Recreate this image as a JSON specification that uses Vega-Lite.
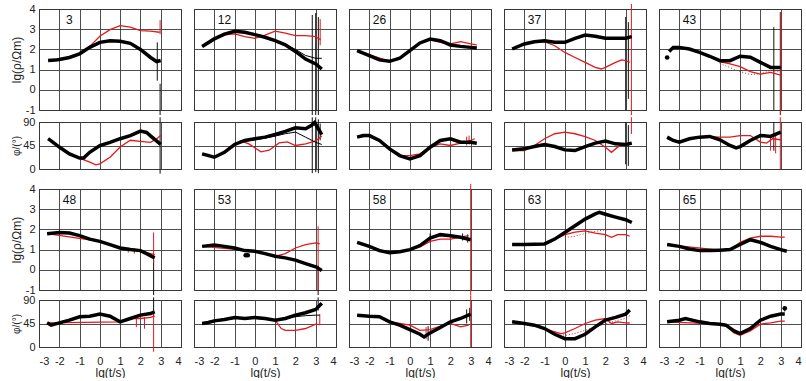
{
"$schema":"https://vega.github.io/schema/vega-lite/v6.json",
"padding":{"left":10,"top":2,"right":2,"bottom":0},
"config":{"font":"Liberation Sans","view":{"stroke":"#222","strokeWidth":1},
"axis":{"gridColor":"#3a3a3a","gridWidth":0.9,"gridOpacity":1,"labelFontSize":11,"labelColor":"#222","titleColor":"#222","titleFontWeight":"normal","labelPadding":3,"ticks":false,"domain":false,"labelOverlap":false,"labelExpr":"datum.value"},
"axisY":{"minExtent":13,"maxExtent":13}},
"datasets":{"d":[
{"s":3,"q":"r","k":"l"},{"s":12,"q":"r","k":"l"},{"s":26,"q":"r","k":"l"},{"s":37,"q":"r","k":"l"},{"s":43,"q":"r","k":"l"},
{"s":48,"q":"r","k":"l"},{"s":53,"q":"r","k":"l"},{"s":58,"q":"r","k":"l"},{"s":63,"q":"r","k":"l"},{"s":65,"q":"r","k":"l"},

{"s":3,"q":"r","k":"o","x":-2.55,"y":1.45},{"s":3,"q":"r","k":"o","x":-2.2,"y":1.47},{"s":3,"q":"r","k":"o","x":-2,"y":1.5},{"s":3,"q":"r","k":"o","x":-1.5,"y":1.6},{"s":3,"q":"r","k":"o","x":-1,"y":1.78},{"s":3,"q":"r","k":"o","x":-0.5,"y":2.1},{"s":3,"q":"r","k":"o","x":0,"y":2.35},{"s":3,"q":"r","k":"o","x":0.5,"y":2.43},{"s":3,"q":"r","k":"o","x":1,"y":2.4},{"s":3,"q":"r","k":"o","x":1.5,"y":2.3},{"s":3,"q":"r","k":"o","x":2,"y":2.0},{"s":3,"q":"r","k":"o","x":2.5,"y":1.6},{"s":3,"q":"r","k":"o","x":2.8,"y":1.4},{"s":3,"q":"r","k":"o","x":3.0,"y":1.45},
{"s":3,"q":"r","k":"m","x":-2.55,"y":1.45},{"s":3,"q":"r","k":"m","x":-2,"y":1.5},{"s":3,"q":"r","k":"m","x":-1.5,"y":1.6},{"s":3,"q":"r","k":"m","x":-1,"y":1.8},{"s":3,"q":"r","k":"m","x":-0.5,"y":2.15},{"s":3,"q":"r","k":"m","x":0,"y":2.65},{"s":3,"q":"r","k":"m","x":0.5,"y":2.98},{"s":3,"q":"r","k":"m","x":1,"y":3.18},{"s":3,"q":"r","k":"m","x":1.5,"y":3.1},{"s":3,"q":"r","k":"m","x":2,"y":2.93},{"s":3,"q":"r","k":"m","x":2.5,"y":2.9},{"s":3,"q":"r","k":"m","x":2.95,"y":2.85},
{"s":3,"q":"r","k":"eb","x":2.83,"y":2.35,"y2":0.45},{"s":3,"q":"r","k":"eb","x":2.97,"y":0.3,"y2":-1.25},{"s":3,"q":"r","k":"er","x":2.97,"y":3.45,"y2":2.75},
{"s":3,"q":"p","k":"o","x":-2.55,"y":58},{"s":3,"q":"p","k":"o","x":-2,"y":42},{"s":3,"q":"p","k":"o","x":-1.5,"y":29},{"s":3,"q":"p","k":"o","x":-1,"y":21},{"s":3,"q":"p","k":"o","x":-0.8,"y":21},{"s":3,"q":"p","k":"o","x":-0.5,"y":32},{"s":3,"q":"p","k":"o","x":0,"y":45},{"s":3,"q":"p","k":"o","x":0.5,"y":51},{"s":3,"q":"p","k":"o","x":1,"y":58},{"s":3,"q":"p","k":"o","x":1.5,"y":64},{"s":3,"q":"p","k":"o","x":2,"y":72.6},{"s":3,"q":"p","k":"o","x":2.3,"y":70},{"s":3,"q":"p","k":"o","x":2.6,"y":60},{"s":3,"q":"p","k":"o","x":3.0,"y":47},
{"s":3,"q":"p","k":"m","x":-2.55,"y":58},{"s":3,"q":"p","k":"m","x":-2,"y":42},{"s":3,"q":"p","k":"m","x":-1.5,"y":29},{"s":3,"q":"p","k":"m","x":-1,"y":21},{"s":3,"q":"p","k":"m","x":-0.5,"y":13},{"s":3,"q":"p","k":"m","x":-0.2,"y":8},{"s":3,"q":"p","k":"m","x":0,"y":10},{"s":3,"q":"p","k":"m","x":0.5,"y":22.5},{"s":3,"q":"p","k":"m","x":1,"y":42},{"s":3,"q":"p","k":"m","x":1.5,"y":55},{"s":3,"q":"p","k":"m","x":2,"y":53},{"s":3,"q":"p","k":"m","x":2.5,"y":51},{"s":3,"q":"p","k":"m","x":2.8,"y":58},{"s":3,"q":"p","k":"m","x":3,"y":64},
{"s":3,"q":"p","k":"eb","x":2.97,"y":99,"y2":-9},

{"s":12,"q":"r","k":"o","x":-2.6,"y":2.14},{"s":12,"q":"r","k":"o","x":-2,"y":2.52},{"s":12,"q":"r","k":"o","x":-1.5,"y":2.76},{"s":12,"q":"r","k":"o","x":-1,"y":2.9},{"s":12,"q":"r","k":"o","x":-0.5,"y":2.85},{"s":12,"q":"r","k":"o","x":0,"y":2.73},{"s":12,"q":"r","k":"o","x":0.5,"y":2.6},{"s":12,"q":"r","k":"o","x":1,"y":2.43},{"s":12,"q":"r","k":"o","x":1.5,"y":2.23},{"s":12,"q":"r","k":"o","x":2,"y":1.9},{"s":12,"q":"r","k":"o","x":2.5,"y":1.52},{"s":12,"q":"r","k":"o","x":3,"y":1.28},{"s":12,"q":"r","k":"o","x":3.3,"y":1.03},
{"s":12,"q":"r","k":"f","x":1,"y":2.45},{"s":12,"q":"r","k":"f","x":1.5,"y":2.25},{"s":12,"q":"r","k":"f","x":2,"y":2.0},{"s":12,"q":"r","k":"f","x":2.5,"y":1.7},{"s":12,"q":"r","k":"f","x":3,"y":1.56},{"s":12,"q":"r","k":"f","x":3.3,"y":1.56},
{"s":12,"q":"r","k":"m","x":-2.6,"y":2.14},{"s":12,"q":"r","k":"m","x":-2,"y":2.5},{"s":12,"q":"r","k":"m","x":-1.5,"y":2.72},{"s":12,"q":"r","k":"m","x":-1,"y":2.77},{"s":12,"q":"r","k":"m","x":-0.5,"y":2.63},{"s":12,"q":"r","k":"m","x":0,"y":2.55},{"s":12,"q":"r","k":"m","x":0.5,"y":2.71},{"s":12,"q":"r","k":"m","x":1,"y":2.9},{"s":12,"q":"r","k":"m","x":1.5,"y":2.81},{"s":12,"q":"r","k":"m","x":2,"y":2.68},{"s":12,"q":"r","k":"m","x":2.5,"y":2.68},{"s":12,"q":"r","k":"m","x":3,"y":2.63},{"s":12,"q":"r","k":"m","x":3.25,"y":2.48},
{"s":12,"q":"r","k":"eb","x":2.83,"y":3.7,"y2":-1.25},{"s":12,"q":"r","k":"eb","x":3.0,"y":3.8,"y2":-1.25},{"s":12,"q":"r","k":"eb","x":3.13,"y":3.6,"y2":-1.25},{"s":12,"q":"r","k":"er","x":3.22,"y":3.5,"y2":2.2},
{"s":12,"q":"p","k":"o","x":-2.6,"y":29},{"s":12,"q":"p","k":"o","x":-2,"y":22.5},{"s":12,"q":"p","k":"o","x":-1.5,"y":32},{"s":12,"q":"p","k":"o","x":-1,"y":47},{"s":12,"q":"p","k":"o","x":-0.5,"y":54.6},{"s":12,"q":"p","k":"o","x":0,"y":57.9},{"s":12,"q":"p","k":"o","x":0.5,"y":61},{"s":12,"q":"p","k":"o","x":1,"y":66},{"s":12,"q":"p","k":"o","x":1.5,"y":72},{"s":12,"q":"p","k":"o","x":2,"y":79},{"s":12,"q":"p","k":"o","x":2.5,"y":77},{"s":12,"q":"p","k":"o","x":2.8,"y":83.6},{"s":12,"q":"p","k":"o","x":2.95,"y":89},{"s":12,"q":"p","k":"o","x":3.1,"y":79},{"s":12,"q":"p","k":"o","x":3.3,"y":65.6},
{"s":12,"q":"p","k":"f","x":-1,"y":46},{"s":12,"q":"p","k":"f","x":-0.5,"y":53},{"s":12,"q":"p","k":"f","x":0,"y":56},{"s":12,"q":"p","k":"f","x":0.5,"y":59},{"s":12,"q":"p","k":"f","x":1,"y":63},{"s":12,"q":"p","k":"f","x":1.5,"y":67.5},{"s":12,"q":"p","k":"f","x":2,"y":70.7},{"s":12,"q":"p","k":"f","x":2.5,"y":61},{"s":12,"q":"p","k":"f","x":3,"y":51},{"s":12,"q":"p","k":"f","x":3.3,"y":47},
{"s":12,"q":"p","k":"m","x":-2.6,"y":29},{"s":12,"q":"p","k":"m","x":-2,"y":23},{"s":12,"q":"p","k":"m","x":-1.5,"y":31},{"s":12,"q":"p","k":"m","x":-1,"y":44},{"s":12,"q":"p","k":"m","x":-0.7,"y":54},{"s":12,"q":"p","k":"m","x":-0.3,"y":48},{"s":12,"q":"p","k":"m","x":0.3,"y":33},{"s":12,"q":"p","k":"m","x":0.7,"y":36},{"s":12,"q":"p","k":"m","x":1.2,"y":50},{"s":12,"q":"p","k":"m","x":1.6,"y":52},{"s":12,"q":"p","k":"m","x":2.0,"y":45},{"s":12,"q":"p","k":"m","x":2.5,"y":48},{"s":12,"q":"p","k":"m","x":3,"y":54},{"s":12,"q":"p","k":"m","x":3.3,"y":63},
{"s":12,"q":"p","k":"eb","x":2.83,"y":99,"y2":-8},{"s":12,"q":"p","k":"eb","x":3.0,"y":99,"y2":-6},{"s":12,"q":"p","k":"eb","x":3.13,"y":95,"y2":-8},{"s":12,"q":"p","k":"eb","x":3.22,"y":87,"y2":55},

{"s":26,"q":"r","k":"o","x":-2.6,"y":1.94},{"s":26,"q":"r","k":"o","x":-2,"y":1.69},{"s":26,"q":"r","k":"o","x":-1.5,"y":1.48},{"s":26,"q":"r","k":"o","x":-1,"y":1.41},{"s":26,"q":"r","k":"o","x":-0.5,"y":1.56},{"s":26,"q":"r","k":"o","x":0,"y":1.94},{"s":26,"q":"r","k":"o","x":0.5,"y":2.32},{"s":26,"q":"r","k":"o","x":1,"y":2.51},{"s":26,"q":"r","k":"o","x":1.5,"y":2.43},{"s":26,"q":"r","k":"o","x":2,"y":2.22},{"s":26,"q":"r","k":"o","x":2.5,"y":2.15},{"s":26,"q":"r","k":"o","x":3,"y":2.1},{"s":26,"q":"r","k":"o","x":3.3,"y":2.07},
{"s":26,"q":"r","k":"m","x":-2.6,"y":1.94},{"s":26,"q":"r","k":"m","x":-1,"y":1.41},{"s":26,"q":"r","k":"m","x":-0.5,"y":1.56},{"s":26,"q":"r","k":"m","x":0,"y":1.92},{"s":26,"q":"r","k":"m","x":0.5,"y":2.3},{"s":26,"q":"r","k":"m","x":1,"y":2.48},{"s":26,"q":"r","k":"m","x":1.5,"y":2.35},{"s":26,"q":"r","k":"m","x":2,"y":2.27},{"s":26,"q":"r","k":"m","x":2.5,"y":2.38},{"s":26,"q":"r","k":"m","x":3,"y":2.27},{"s":26,"q":"r","k":"m","x":3.3,"y":2.22},
{"s":26,"q":"p","k":"o","x":-2.6,"y":61},{"s":26,"q":"p","k":"o","x":-2.3,"y":64},{"s":26,"q":"p","k":"o","x":-2,"y":64},{"s":26,"q":"p","k":"o","x":-1.5,"y":54.6},{"s":26,"q":"p","k":"o","x":-1,"y":38.6},{"s":26,"q":"p","k":"o","x":-0.5,"y":25.7},{"s":26,"q":"p","k":"o","x":0,"y":19.3},{"s":26,"q":"p","k":"o","x":0.5,"y":25.7},{"s":26,"q":"p","k":"o","x":1,"y":41.8},{"s":26,"q":"p","k":"o","x":1.5,"y":54.6},{"s":26,"q":"p","k":"o","x":2,"y":57.9},{"s":26,"q":"p","k":"o","x":2.5,"y":51.4},{"s":26,"q":"p","k":"o","x":3,"y":51.4},{"s":26,"q":"p","k":"o","x":3.3,"y":49.5},
{"s":26,"q":"p","k":"m","x":-2.6,"y":61},{"s":26,"q":"p","k":"m","x":-2,"y":63},{"s":26,"q":"p","k":"m","x":-1.5,"y":54},{"s":26,"q":"p","k":"m","x":-1,"y":38},{"s":26,"q":"p","k":"m","x":-0.5,"y":26},{"s":26,"q":"p","k":"m","x":0,"y":25.7},{"s":26,"q":"p","k":"m","x":0.5,"y":29},{"s":26,"q":"p","k":"m","x":1,"y":42},{"s":26,"q":"p","k":"m","x":1.5,"y":48.2},{"s":26,"q":"p","k":"m","x":2,"y":45},{"s":26,"q":"p","k":"m","x":2.5,"y":49.5},{"s":26,"q":"p","k":"m","x":3,"y":54.6},{"s":26,"q":"p","k":"m","x":3.2,"y":57.9},
{"s":26,"q":"p","k":"er","x":2.8,"y":62,"y2":45},{"s":26,"q":"p","k":"er","x":2.92,"y":64,"y2":47},

{"s":37,"q":"r","k":"o","x":-2.6,"y":2.02},{"s":37,"q":"r","k":"o","x":-2,"y":2.27},{"s":37,"q":"r","k":"o","x":-1.5,"y":2.38},{"s":37,"q":"r","k":"o","x":-1,"y":2.43},{"s":37,"q":"r","k":"o","x":-0.5,"y":2.35},{"s":37,"q":"r","k":"o","x":0,"y":2.35},{"s":37,"q":"r","k":"o","x":0.5,"y":2.55},{"s":37,"q":"r","k":"o","x":1,"y":2.71},{"s":37,"q":"r","k":"o","x":1.5,"y":2.65},{"s":37,"q":"r","k":"o","x":2,"y":2.55},{"s":37,"q":"r","k":"o","x":2.5,"y":2.55},{"s":37,"q":"r","k":"o","x":3,"y":2.55},{"s":37,"q":"r","k":"o","x":3.3,"y":2.63},
{"s":37,"q":"r","k":"m","x":-2.6,"y":2.02},{"s":37,"q":"r","k":"m","x":-2,"y":2.25},{"s":37,"q":"r","k":"m","x":-1.5,"y":2.36},{"s":37,"q":"r","k":"m","x":-1,"y":2.38},{"s":37,"q":"r","k":"m","x":-0.5,"y":2.18},{"s":37,"q":"r","k":"m","x":0,"y":1.85},{"s":37,"q":"r","k":"m","x":0.5,"y":1.6},{"s":37,"q":"r","k":"m","x":1,"y":1.36},{"s":37,"q":"r","k":"m","x":1.5,"y":1.11},{"s":37,"q":"r","k":"m","x":1.8,"y":1.03},{"s":37,"q":"r","k":"m","x":2,"y":1.11},{"s":37,"q":"r","k":"m","x":2.5,"y":1.36},{"s":37,"q":"r","k":"m","x":2.8,"y":1.48},{"s":37,"q":"r","k":"m","x":3,"y":1.44},{"s":37,"q":"r","k":"m","x":3.2,"y":1.36},
{"s":37,"q":"r","k":"eb","x":3.0,"y":3.6,"y2":-1.0},{"s":37,"q":"r","k":"eb","x":3.13,"y":3.35,"y2":-0.45},{"s":37,"q":"r","k":"er","x":3.28,"y":4.25,"y2":-1.25},
{"s":37,"q":"p","k":"o","x":-2.6,"y":36.6},{"s":37,"q":"p","k":"o","x":-2,"y":38.6},{"s":37,"q":"p","k":"o","x":-1.5,"y":43},{"s":37,"q":"p","k":"o","x":-1,"y":47},{"s":37,"q":"p","k":"o","x":-0.5,"y":43},{"s":37,"q":"p","k":"o","x":0,"y":36.6},{"s":37,"q":"p","k":"o","x":0.5,"y":35.4},{"s":37,"q":"p","k":"o","x":1,"y":43},{"s":37,"q":"p","k":"o","x":1.5,"y":49.5},{"s":37,"q":"p","k":"o","x":2,"y":53.4},{"s":37,"q":"p","k":"o","x":2.5,"y":48.2},{"s":37,"q":"p","k":"o","x":3,"y":47},{"s":37,"q":"p","k":"o","x":3.3,"y":49.5},
{"s":37,"q":"p","k":"m","x":-2.6,"y":35},{"s":37,"q":"p","k":"m","x":-2,"y":35.4},{"s":37,"q":"p","k":"m","x":-1.5,"y":45},{"s":37,"q":"p","k":"m","x":-1,"y":58},{"s":37,"q":"p","k":"m","x":-0.5,"y":67.5},{"s":37,"q":"p","k":"m","x":0,"y":70.7},{"s":37,"q":"p","k":"m","x":0.5,"y":67.5},{"s":37,"q":"p","k":"m","x":1,"y":62},{"s":37,"q":"p","k":"m","x":1.5,"y":54.6},{"s":37,"q":"p","k":"m","x":2,"y":41.8},{"s":37,"q":"p","k":"m","x":2.3,"y":32},{"s":37,"q":"p","k":"m","x":2.6,"y":41.8},{"s":37,"q":"p","k":"m","x":3,"y":49.5},{"s":37,"q":"p","k":"m","x":3.2,"y":48},
{"s":37,"q":"p","k":"eb","x":3.0,"y":90,"y2":9},{"s":37,"q":"p","k":"eb","x":3.13,"y":84,"y2":6},{"s":37,"q":"p","k":"er","x":3.28,"y":99,"y2":67},

{"s":43,"q":"r","k":"p","x":-2.6,"y":1.6},
{"s":43,"q":"r","k":"o","x":-2.5,"y":1.9},{"s":43,"q":"r","k":"o","x":-2.3,"y":2.1},{"s":43,"q":"r","k":"o","x":-2,"y":2.1},{"s":43,"q":"r","k":"o","x":-1.5,"y":2.02},{"s":43,"q":"r","k":"o","x":-1,"y":1.85},{"s":43,"q":"r","k":"o","x":-0.5,"y":1.66},{"s":43,"q":"r","k":"o","x":0,"y":1.44},{"s":43,"q":"r","k":"o","x":0.5,"y":1.44},{"s":43,"q":"r","k":"o","x":1,"y":1.66},{"s":43,"q":"r","k":"o","x":1.5,"y":1.61},{"s":43,"q":"r","k":"o","x":2,"y":1.36},{"s":43,"q":"r","k":"o","x":2.5,"y":1.11},{"s":43,"q":"r","k":"o","x":3,"y":1.11},
{"s":43,"q":"r","k":"m","x":-2.5,"y":1.95},{"s":43,"q":"r","k":"m","x":-2.3,"y":2.1},{"s":43,"q":"r","k":"m","x":-2,"y":2.1},{"s":43,"q":"r","k":"m","x":-1.5,"y":2.02},{"s":43,"q":"r","k":"m","x":-1,"y":1.85},{"s":43,"q":"r","k":"m","x":-0.5,"y":1.66},{"s":43,"q":"r","k":"m","x":0,"y":1.39},{"s":43,"q":"r","k":"m","x":0.5,"y":1.28},{"s":43,"q":"r","k":"m","x":1,"y":1.15},{"s":43,"q":"r","k":"m","x":1.5,"y":0.9},{"s":43,"q":"r","k":"m","x":2,"y":0.78},{"s":43,"q":"r","k":"m","x":2.5,"y":0.86},{"s":43,"q":"r","k":"m","x":3,"y":0.73},
{"s":43,"q":"r","k":"d","x":0,"y":1.3},{"s":43,"q":"r","k":"d","x":0.5,"y":1.1},{"s":43,"q":"r","k":"d","x":1,"y":0.9},{"s":43,"q":"r","k":"d","x":1.5,"y":0.75},{"s":43,"q":"r","k":"d","x":2,"y":0.8},{"s":43,"q":"r","k":"d","x":2.5,"y":0.95},{"s":43,"q":"r","k":"d","x":3,"y":0.9},
{"s":43,"q":"r","k":"eb","x":2.66,"y":3.1,"y2":-1.0},{"s":43,"q":"r","k":"eb","x":2.98,"y":3.85,"y2":-1.25},{"s":43,"q":"r","k":"er","x":2.99,"y":3.85,"y2":-1.25},
{"s":43,"q":"p","k":"o","x":-2.6,"y":61},{"s":43,"q":"p","k":"o","x":-2.3,"y":54.6},{"s":43,"q":"p","k":"o","x":-2,"y":51.4},{"s":43,"q":"p","k":"o","x":-1.5,"y":57.9},{"s":43,"q":"p","k":"o","x":-1,"y":61},{"s":43,"q":"p","k":"o","x":-0.5,"y":62.4},{"s":43,"q":"p","k":"o","x":0,"y":56},{"s":43,"q":"p","k":"o","x":0.5,"y":45},{"s":43,"q":"p","k":"o","x":0.8,"y":40.5},{"s":43,"q":"p","k":"o","x":1,"y":43},{"s":43,"q":"p","k":"o","x":1.5,"y":54.6},{"s":43,"q":"p","k":"o","x":2,"y":64.3},{"s":43,"q":"p","k":"o","x":2.5,"y":62.4},{"s":43,"q":"p","k":"o","x":3,"y":70.7},
{"s":43,"q":"p","k":"m","x":-2.6,"y":58},{"s":43,"q":"p","k":"m","x":-2.3,"y":54},{"s":43,"q":"p","k":"m","x":-2,"y":52},{"s":43,"q":"p","k":"m","x":-1.5,"y":57.9},{"s":43,"q":"p","k":"m","x":-1,"y":61},{"s":43,"q":"p","k":"m","x":-0.5,"y":62},{"s":43,"q":"p","k":"m","x":0,"y":61},{"s":43,"q":"p","k":"m","x":0.5,"y":61},{"s":43,"q":"p","k":"m","x":1,"y":64},{"s":43,"q":"p","k":"m","x":1.5,"y":64},{"s":43,"q":"p","k":"m","x":2,"y":51.4},{"s":43,"q":"p","k":"m","x":2.3,"y":49.5},{"s":43,"q":"p","k":"m","x":2.6,"y":57.9},{"s":43,"q":"p","k":"m","x":3,"y":56},
{"s":43,"q":"p","k":"eb","x":2.66,"y":90,"y2":35},{"s":43,"q":"p","k":"er","x":2.98,"y":99,"y2":0},{"s":43,"q":"p","k":"er","x":2.5,"y":62,"y2":35},{"s":43,"q":"p","k":"er","x":2.75,"y":65,"y2":30},

{"s":48,"q":"r","k":"o","x":-2.6,"y":1.79},{"s":48,"q":"r","k":"o","x":-2,"y":1.85},{"s":48,"q":"r","k":"o","x":-1.5,"y":1.82},{"s":48,"q":"r","k":"o","x":-1,"y":1.69},{"s":48,"q":"r","k":"o","x":-0.5,"y":1.52},{"s":48,"q":"r","k":"o","x":0,"y":1.41},{"s":48,"q":"r","k":"o","x":0.5,"y":1.25},{"s":48,"q":"r","k":"o","x":1,"y":1.08},{"s":48,"q":"r","k":"o","x":1.5,"y":1.0},{"s":48,"q":"r","k":"o","x":2,"y":0.95},{"s":48,"q":"r","k":"o","x":2.3,"y":0.8},{"s":48,"q":"r","k":"o","x":2.7,"y":0.59},
{"s":48,"q":"r","k":"m","x":-2.6,"y":1.79},{"s":48,"q":"r","k":"m","x":0,"y":1.41},{"s":48,"q":"r","k":"m","x":1,"y":1.08},{"s":48,"q":"r","k":"m","x":1.5,"y":1.03},{"s":48,"q":"r","k":"m","x":2,"y":0.92},{"s":48,"q":"r","k":"m","x":2.5,"y":0.8},{"s":48,"q":"r","k":"m","x":2.7,"y":0.75},
{"s":48,"q":"r","k":"er","x":2.65,"y":1.85,"y2":0.35},{"s":48,"q":"r","k":"eb","x":2.65,"y":0.6,"y2":-1.25},{"s":48,"q":"r","k":"er","x":1.4,"y":1.1,"y2":0.85},{"s":48,"q":"r","k":"er","x":1.7,"y":1.05,"y2":0.8},
{"s":48,"q":"p","k":"o","x":-2.6,"y":46.3},{"s":48,"q":"p","k":"o","x":-2.4,"y":41.8},{"s":48,"q":"p","k":"o","x":-2,"y":46.3},{"s":48,"q":"p","k":"o","x":-1.5,"y":51.4},{"s":48,"q":"p","k":"o","x":-1,"y":57.9},{"s":48,"q":"p","k":"o","x":-0.5,"y":59},{"s":48,"q":"p","k":"o","x":0,"y":63},{"s":48,"q":"p","k":"o","x":0.5,"y":59},{"s":48,"q":"p","k":"o","x":1,"y":48.2},{"s":48,"q":"p","k":"o","x":1.5,"y":54.6},{"s":48,"q":"p","k":"o","x":2,"y":61},{"s":48,"q":"p","k":"o","x":2.5,"y":64},{"s":48,"q":"p","k":"o","x":2.7,"y":67.5},
{"s":48,"q":"p","k":"m","x":-2.6,"y":46.3},{"s":48,"q":"p","k":"m","x":1,"y":48.2},{"s":48,"q":"p","k":"m","x":1.5,"y":54.6},{"s":48,"q":"p","k":"m","x":2,"y":54.6},{"s":48,"q":"p","k":"m","x":2.5,"y":56.6},{"s":48,"q":"p","k":"m","x":2.7,"y":59},
{"s":48,"q":"p","k":"er","x":2.65,"y":70,"y2":-9},{"s":48,"q":"p","k":"eb","x":2.65,"y":95,"y2":60},{"s":48,"q":"p","k":"er","x":1.8,"y":55,"y2":38},{"s":48,"q":"p","k":"er","x":2.2,"y":57,"y2":35},

{"s":53,"q":"r","k":"o","x":-2.6,"y":1.16},{"s":53,"q":"r","k":"o","x":-2,"y":1.23},{"s":53,"q":"r","k":"o","x":-1.5,"y":1.16},{"s":53,"q":"r","k":"o","x":-1,"y":1.08},{"s":53,"q":"r","k":"o","x":-0.5,"y":0.95},{"s":53,"q":"r","k":"o","x":0,"y":0.92},{"s":53,"q":"r","k":"o","x":0.5,"y":0.8},{"s":53,"q":"r","k":"o","x":1,"y":0.67},{"s":53,"q":"r","k":"o","x":1.5,"y":0.59},{"s":53,"q":"r","k":"o","x":2,"y":0.48},{"s":53,"q":"r","k":"o","x":2.5,"y":0.31},{"s":53,"q":"r","k":"o","x":3,"y":0.15},{"s":53,"q":"r","k":"o","x":3.3,"y":-0.03},
{"s":53,"q":"r","k":"p","x":-0.45,"y":0.72},{"s":53,"q":"r","k":"p","x":-0.35,"y":0.72},
{"s":53,"q":"r","k":"m","x":-2.6,"y":1.16},{"s":53,"q":"r","k":"m","x":0,"y":0.92},{"s":53,"q":"r","k":"m","x":0.5,"y":0.84},{"s":53,"q":"r","k":"m","x":1,"y":0.67},{"s":53,"q":"r","k":"m","x":1.5,"y":0.8},{"s":53,"q":"r","k":"m","x":2,"y":1.08},{"s":53,"q":"r","k":"m","x":2.5,"y":1.25},{"s":53,"q":"r","k":"m","x":3,"y":1.33},{"s":53,"q":"r","k":"m","x":3.2,"y":1.28},
{"s":53,"q":"r","k":"er","x":3.12,"y":2.15,"y2":-1.0},{"s":53,"q":"r","k":"eb","x":3.12,"y":0.2,"y2":-1.25},
{"s":53,"q":"p","k":"o","x":-2.6,"y":45},{"s":53,"q":"p","k":"o","x":-2.3,"y":47},{"s":53,"q":"p","k":"o","x":-2,"y":50},{"s":53,"q":"p","k":"o","x":-1.5,"y":52.7},{"s":53,"q":"p","k":"o","x":-1,"y":56.6},{"s":53,"q":"p","k":"o","x":-0.5,"y":54.6},{"s":53,"q":"p","k":"o","x":0,"y":56.6},{"s":53,"q":"p","k":"o","x":0.5,"y":54.6},{"s":53,"q":"p","k":"o","x":1,"y":51.4},{"s":53,"q":"p","k":"o","x":1.5,"y":54.6},{"s":53,"q":"p","k":"o","x":2,"y":61},{"s":53,"q":"p","k":"o","x":2.5,"y":65.6},{"s":53,"q":"p","k":"o","x":3,"y":72},{"s":53,"q":"p","k":"o","x":3.3,"y":83.6},
{"s":53,"q":"p","k":"f","x":1.5,"y":54},{"s":53,"q":"p","k":"f","x":2,"y":58},{"s":53,"q":"p","k":"f","x":2.5,"y":60},{"s":53,"q":"p","k":"f","x":3,"y":61},{"s":53,"q":"p","k":"f","x":3.2,"y":61},
{"s":53,"q":"p","k":"m","x":-2.6,"y":45},{"s":53,"q":"p","k":"m","x":-1,"y":55},{"s":53,"q":"p","k":"m","x":0,"y":55},{"s":53,"q":"p","k":"m","x":1,"y":51.4},{"s":53,"q":"p","k":"m","x":1.3,"y":35.4},{"s":53,"q":"p","k":"m","x":1.5,"y":32},{"s":53,"q":"p","k":"m","x":2,"y":32},{"s":53,"q":"p","k":"m","x":2.5,"y":35.4},{"s":53,"q":"p","k":"m","x":3,"y":43.7},{"s":53,"q":"p","k":"m","x":3.2,"y":43},
{"s":53,"q":"p","k":"eb","x":3.12,"y":95,"y2":70},{"s":53,"q":"p","k":"er","x":3.2,"y":63,"y2":43},

{"s":58,"q":"r","k":"o","x":-2.6,"y":1.36},{"s":58,"q":"r","k":"o","x":-2,"y":1.16},{"s":58,"q":"r","k":"o","x":-1.5,"y":0.95},{"s":58,"q":"r","k":"o","x":-1,"y":0.84},{"s":58,"q":"r","k":"o","x":-0.5,"y":0.89},{"s":58,"q":"r","k":"o","x":0,"y":1.0},{"s":58,"q":"r","k":"o","x":0.5,"y":1.2},{"s":58,"q":"r","k":"o","x":1,"y":1.57},{"s":58,"q":"r","k":"o","x":1.5,"y":1.74},{"s":58,"q":"r","k":"o","x":2,"y":1.69},{"s":58,"q":"r","k":"o","x":2.5,"y":1.61},{"s":58,"q":"r","k":"o","x":3,"y":1.49},
{"s":58,"q":"r","k":"m","x":-2.6,"y":1.36},{"s":58,"q":"r","k":"m","x":-1,"y":0.84},{"s":58,"q":"r","k":"m","x":-0.5,"y":0.88},{"s":58,"q":"r","k":"m","x":0,"y":0.97},{"s":58,"q":"r","k":"m","x":0.5,"y":1.13},{"s":58,"q":"r","k":"m","x":1,"y":1.41},{"s":58,"q":"r","k":"m","x":1.5,"y":1.52},{"s":58,"q":"r","k":"m","x":2,"y":1.52},{"s":58,"q":"r","k":"m","x":2.5,"y":1.62},{"s":58,"q":"r","k":"m","x":2.9,"y":1.69},
{"s":58,"q":"r","k":"er","x":3.0,"y":4.25,"y2":-1.25},{"s":58,"q":"r","k":"eb","x":1.0,"y":1.8,"y2":1.35},{"s":58,"q":"r","k":"eb","x":2.6,"y":1.8,"y2":1.45},{"s":58,"q":"r","k":"eb","x":2.85,"y":1.75,"y2":1.35},
{"s":58,"q":"p","k":"o","x":-2.6,"y":61},{"s":58,"q":"p","k":"o","x":-2,"y":59},{"s":58,"q":"p","k":"o","x":-1.5,"y":57.9},{"s":58,"q":"p","k":"o","x":-1,"y":48.2},{"s":58,"q":"p","k":"o","x":-0.5,"y":41.8},{"s":58,"q":"p","k":"o","x":0,"y":33.4},{"s":58,"q":"p","k":"o","x":0.5,"y":24.4},{"s":58,"q":"p","k":"o","x":0.7,"y":19.3},{"s":58,"q":"p","k":"o","x":1,"y":27},{"s":58,"q":"p","k":"o","x":1.5,"y":37.3},{"s":58,"q":"p","k":"o","x":2,"y":48.2},{"s":58,"q":"p","k":"o","x":2.5,"y":54.6},{"s":58,"q":"p","k":"o","x":3,"y":63},
{"s":58,"q":"p","k":"m","x":-2.6,"y":61},{"s":58,"q":"p","k":"m","x":-2,"y":59},{"s":58,"q":"p","k":"m","x":-1.5,"y":57},{"s":58,"q":"p","k":"m","x":-1,"y":48},{"s":58,"q":"p","k":"m","x":-0.5,"y":45},{"s":58,"q":"p","k":"m","x":0,"y":41.8},{"s":58,"q":"p","k":"m","x":0.5,"y":32},{"s":58,"q":"p","k":"m","x":1,"y":33.4},{"s":58,"q":"p","k":"m","x":1.5,"y":39.9},{"s":58,"q":"p","k":"m","x":2,"y":45},{"s":58,"q":"p","k":"m","x":2.5,"y":38.6},{"s":58,"q":"p","k":"m","x":2.9,"y":41.8},
{"s":58,"q":"p","k":"er","x":3.0,"y":99,"y2":0},{"s":58,"q":"p","k":"eb","x":2.8,"y":72,"y2":45},{"s":58,"q":"p","k":"eb","x":2.95,"y":75,"y2":50},{"s":58,"q":"p","k":"eb","x":0.9,"y":40,"y2":12},{"s":58,"q":"p","k":"er","x":0.8,"y":38,"y2":15},

{"s":63,"q":"r","k":"o","x":-2.6,"y":1.25},{"s":63,"q":"r","k":"o","x":-2,"y":1.25},{"s":63,"q":"r","k":"o","x":-1,"y":1.28},{"s":63,"q":"r","k":"o","x":-0.5,"y":1.52},{"s":63,"q":"r","k":"o","x":0,"y":1.85},{"s":63,"q":"r","k":"o","x":0.5,"y":2.18},{"s":63,"q":"r","k":"o","x":1,"y":2.51},{"s":63,"q":"r","k":"o","x":1.5,"y":2.77},{"s":63,"q":"r","k":"o","x":1.7,"y":2.84},{"s":63,"q":"r","k":"o","x":2,"y":2.75},{"s":63,"q":"r","k":"o","x":2.5,"y":2.61},{"s":63,"q":"r","k":"o","x":3,"y":2.48},{"s":63,"q":"r","k":"o","x":3.3,"y":2.34},
{"s":63,"q":"r","k":"m","x":-2.6,"y":1.25},{"s":63,"q":"r","k":"m","x":-1,"y":1.28},{"s":63,"q":"r","k":"m","x":-0.5,"y":1.52},{"s":63,"q":"r","k":"m","x":0,"y":1.74},{"s":63,"q":"r","k":"m","x":0.5,"y":1.87},{"s":63,"q":"r","k":"m","x":1,"y":1.93},{"s":63,"q":"r","k":"m","x":1.5,"y":1.82},{"s":63,"q":"r","k":"m","x":2,"y":1.74},{"s":63,"q":"r","k":"m","x":2.3,"y":1.61},{"s":63,"q":"r","k":"m","x":2.6,"y":1.74},{"s":63,"q":"r","k":"m","x":3,"y":1.74},{"s":63,"q":"r","k":"m","x":3.2,"y":1.66},
{"s":63,"q":"r","k":"d","x":0,"y":1.6},{"s":63,"q":"r","k":"d","x":0.5,"y":1.66},{"s":63,"q":"r","k":"d","x":1,"y":1.8},{"s":63,"q":"r","k":"d","x":1.5,"y":1.9},{"s":63,"q":"r","k":"d","x":2,"y":1.98},{"s":63,"q":"r","k":"d","x":2.5,"y":2.0},{"s":63,"q":"r","k":"d","x":3,"y":2.0},{"s":63,"q":"r","k":"d","x":3.2,"y":1.98},
{"s":63,"q":"p","k":"o","x":-2.6,"y":48.2},{"s":63,"q":"p","k":"o","x":-2,"y":45},{"s":63,"q":"p","k":"o","x":-1.5,"y":41.8},{"s":63,"q":"p","k":"o","x":-1,"y":35.4},{"s":63,"q":"p","k":"o","x":-0.5,"y":24.4},{"s":63,"q":"p","k":"o","x":0,"y":16},{"s":63,"q":"p","k":"o","x":0.5,"y":16},{"s":63,"q":"p","k":"o","x":1,"y":24.4},{"s":63,"q":"p","k":"o","x":1.5,"y":38.6},{"s":63,"q":"p","k":"o","x":2,"y":51.4},{"s":63,"q":"p","k":"o","x":2.5,"y":56.6},{"s":63,"q":"p","k":"o","x":3,"y":63},{"s":63,"q":"p","k":"o","x":3.2,"y":70.7},
{"s":63,"q":"p","k":"m","x":-2.6,"y":48},{"s":63,"q":"p","k":"m","x":-2,"y":45},{"s":63,"q":"p","k":"m","x":-1.5,"y":41.8},{"s":63,"q":"p","k":"m","x":-1,"y":35.4},{"s":63,"q":"p","k":"m","x":-0.5,"y":29},{"s":63,"q":"p","k":"m","x":-0.2,"y":25.7},{"s":63,"q":"p","k":"m","x":0,"y":27},{"s":63,"q":"p","k":"m","x":0.5,"y":35.4},{"s":63,"q":"p","k":"m","x":1,"y":45},{"s":63,"q":"p","k":"m","x":1.5,"y":51.4},{"s":63,"q":"p","k":"m","x":2,"y":54.6},{"s":63,"q":"p","k":"m","x":2.3,"y":45},{"s":63,"q":"p","k":"m","x":2.6,"y":48.2},{"s":63,"q":"p","k":"m","x":3,"y":46.3},{"s":63,"q":"p","k":"m","x":3.2,"y":46},
{"s":63,"q":"p","k":"d","x":-0.5,"y":30},{"s":63,"q":"p","k":"d","x":0,"y":22},{"s":63,"q":"p","k":"d","x":0.5,"y":26},{"s":63,"q":"p","k":"d","x":1,"y":32},{"s":63,"q":"p","k":"d","x":1.5,"y":38},{"s":63,"q":"p","k":"d","x":2,"y":44},{"s":63,"q":"p","k":"d","x":2.5,"y":50},{"s":63,"q":"p","k":"d","x":3,"y":55},{"s":63,"q":"p","k":"d","x":3.2,"y":60},

{"s":65,"q":"r","k":"o","x":-2.6,"y":1.25},{"s":65,"q":"r","k":"o","x":-2,"y":1.16},{"s":65,"q":"r","k":"o","x":-1.5,"y":1.03},{"s":65,"q":"r","k":"o","x":-1,"y":0.95},{"s":65,"q":"r","k":"o","x":-0.5,"y":0.95},{"s":65,"q":"r","k":"o","x":0,"y":0.97},{"s":65,"q":"r","k":"o","x":0.5,"y":1.0},{"s":65,"q":"r","k":"o","x":1,"y":1.25},{"s":65,"q":"r","k":"o","x":1.5,"y":1.49},{"s":65,"q":"r","k":"o","x":2,"y":1.36},{"s":65,"q":"r","k":"o","x":2.5,"y":1.16},{"s":65,"q":"r","k":"o","x":3,"y":1.0},{"s":65,"q":"r","k":"o","x":3.3,"y":0.92},
{"s":65,"q":"r","k":"m","x":-2.6,"y":1.25},{"s":65,"q":"r","k":"m","x":0,"y":0.97},{"s":65,"q":"r","k":"m","x":0.5,"y":1.0},{"s":65,"q":"r","k":"m","x":1,"y":1.36},{"s":65,"q":"r","k":"m","x":1.5,"y":1.57},{"s":65,"q":"r","k":"m","x":2,"y":1.66},{"s":65,"q":"r","k":"m","x":2.5,"y":1.66},{"s":65,"q":"r","k":"m","x":3,"y":1.62},{"s":65,"q":"r","k":"m","x":3.2,"y":1.62},
{"s":65,"q":"p","k":"o","x":-2.6,"y":48.2},{"s":65,"q":"p","k":"o","x":-2,"y":51.4},{"s":65,"q":"p","k":"o","x":-1.7,"y":54.6},{"s":65,"q":"p","k":"o","x":-1,"y":48.2},{"s":65,"q":"p","k":"o","x":-0.5,"y":45},{"s":65,"q":"p","k":"o","x":0,"y":43.7},{"s":65,"q":"p","k":"o","x":0.3,"y":41.8},{"s":65,"q":"p","k":"o","x":0.7,"y":30.9},{"s":65,"q":"p","k":"o","x":1,"y":25.7},{"s":65,"q":"p","k":"o","x":1.5,"y":35.4},{"s":65,"q":"p","k":"o","x":2,"y":51.4},{"s":65,"q":"p","k":"o","x":2.5,"y":59},{"s":65,"q":"p","k":"o","x":3,"y":63},{"s":65,"q":"p","k":"o","x":3.2,"y":63},
{"s":65,"q":"p","k":"p","x":3.2,"y":74},
{"s":65,"q":"p","k":"m","x":-2.6,"y":48.2},{"s":65,"q":"p","k":"m","x":0,"y":43.7},{"s":65,"q":"p","k":"m","x":0.3,"y":41},{"s":65,"q":"p","k":"m","x":0.7,"y":27},{"s":65,"q":"p","k":"m","x":1,"y":22.5},{"s":65,"q":"p","k":"m","x":1.5,"y":30.9},{"s":65,"q":"p","k":"m","x":2,"y":43.7},{"s":65,"q":"p","k":"m","x":2.5,"y":46.3},{"s":65,"q":"p","k":"m","x":3,"y":49.5},{"s":65,"q":"p","k":"m","x":3.2,"y":49.5},
{"s":65,"q":"p","k":"eb","x":3.2,"y":78,"y2":68}
]},
"spacing":7,
"vconcat":[
{"spacing":-2,"vconcat":[
{"data":{"name":"d"},"transform":[{"filter":"datum.q=='r' && indexof([3,12,26,37,43],datum.s)>=0"}],
"facet":{"column":{"field":"s","type":"ordinal","header":{"labels":false,"title":null}}},"spacing":11,
"spec":{"width":142,"height":101,
"layer":[
{"transform":[{"filter":"datum.k=='eb'"}],"mark":{"type":"rule","color":"#111","strokeWidth":1},"encoding":{"x":{"field":"x","type":"quantitative","scale":{"domain":[-3,4],"nice":false},"axis":{"values":[-3,-2,-1,0,1,2,3,4],"labels":false,"title":null,"grid":true}},"y":{"field":"y","type":"quantitative","scale":{"domain":[-1,4],"nice":false},"axis":{"values":[-1,0,1,2,3,4],"title":"lg(ρ/Ωm)","titleFontSize":12,"titlePadding":2,"grid":true}},"y2":{"field":"y2"}}},
{"transform":[{"filter":"datum.k=='er'"}],"mark":{"type":"rule","color":"#e3191c","strokeWidth":1},"encoding":{"x":{"field":"x","type":"quantitative","scale":{"domain":[-3,4],"nice":false},"axis":{"values":[-3,-2,-1,0,1,2,3,4],"labels":false,"title":null,"grid":true}},"y":{"field":"y","type":"quantitative","scale":{"domain":[-1,4],"nice":false},"axis":{"values":[-1,0,1,2,3,4],"title":"lg(ρ/Ωm)","titleFontSize":12,"titlePadding":2,"grid":true}},"y2":{"field":"y2"}}},
{"transform":[{"filter":"datum.k=='d'"}],"mark":{"type":"line","color":"#e3191c","strokeWidth":1,"strokeDash":[1,2]},"encoding":{"x":{"field":"x","type":"quantitative","scale":{"domain":[-3,4],"nice":false},"axis":{"values":[-3,-2,-1,0,1,2,3,4],"labels":false,"title":null,"grid":true}},"y":{"field":"y","type":"quantitative","scale":{"domain":[-1,4],"nice":false},"axis":{"values":[-1,0,1,2,3,4],"title":"lg(ρ/Ωm)","titleFontSize":12,"titlePadding":2,"grid":true}}}},
{"transform":[{"filter":"datum.k=='m'"}],"mark":{"type":"line","color":"#e3191c","strokeWidth":1.3},"encoding":{"x":{"field":"x","type":"quantitative","scale":{"domain":[-3,4],"nice":false},"axis":{"values":[-3,-2,-1,0,1,2,3,4],"labels":false,"title":null,"grid":true}},"y":{"field":"y","type":"quantitative","scale":{"domain":[-1,4],"nice":false},"axis":{"values":[-1,0,1,2,3,4],"title":"lg(ρ/Ωm)","titleFontSize":12,"titlePadding":2,"grid":true}}}},
{"transform":[{"filter":"datum.k=='f'"}],"mark":{"type":"line","color":"#000","strokeWidth":1},"encoding":{"x":{"field":"x","type":"quantitative","scale":{"domain":[-3,4],"nice":false},"axis":{"values":[-3,-2,-1,0,1,2,3,4],"labels":false,"title":null,"grid":true}},"y":{"field":"y","type":"quantitative","scale":{"domain":[-1,4],"nice":false},"axis":{"values":[-1,0,1,2,3,4],"title":"lg(ρ/Ωm)","titleFontSize":12,"titlePadding":2,"grid":true}}}},
{"transform":[{"filter":"datum.k=='o'"}],"mark":{"type":"line","color":"#000","strokeWidth":3.5},"encoding":{"x":{"field":"x","type":"quantitative","scale":{"domain":[-3,4],"nice":false},"axis":{"values":[-3,-2,-1,0,1,2,3,4],"labels":false,"title":null,"grid":true}},"y":{"field":"y","type":"quantitative","scale":{"domain":[-1,4],"nice":false},"axis":{"values":[-1,0,1,2,3,4],"title":"lg(ρ/Ωm)","titleFontSize":12,"titlePadding":2,"grid":true}}}},
{"transform":[{"filter":"datum.k=='p'"}],"mark":{"type":"circle","color":"#000","size":22,"opacity":1},"encoding":{"x":{"field":"x","type":"quantitative","scale":{"domain":[-3,4],"nice":false},"axis":{"values":[-3,-2,-1,0,1,2,3,4],"labels":false,"title":null,"grid":true}},"y":{"field":"y","type":"quantitative","scale":{"domain":[-1,4],"nice":false},"axis":{"values":[-1,0,1,2,3,4],"title":"lg(ρ/Ωm)","titleFontSize":12,"titlePadding":2,"grid":true}}}},
{"transform":[{"filter":"datum.k=='l'"}],"mark":{"type":"text","fontSize":12,"align":"center","baseline":"middle","color":"#111"},"encoding":{"x":{"datum":-1.5,"type":"quantitative","scale":{"domain":[-3,4],"nice":false},"axis":{"values":[-3,-2,-1,0,1,2,3,4],"labels":false,"title":null,"grid":true}},"y":{"datum":3.45,"type":"quantitative","scale":{"domain":[-1,4],"nice":false},"axis":{"values":[-1,0,1,2,3,4],"title":"lg(ρ/Ωm)","titleFontSize":12,"titlePadding":2,"grid":true}},"text":{"field":"s","type":"nominal"}}}
]}},
{"data":{"name":"d"},"transform":[{"filter":"datum.q=='p' && indexof([3,12,26,37,43],datum.s)>=0"}],
"facet":{"column":{"field":"s","type":"ordinal","header":{"labels":false,"title":null}}},"spacing":11,
"spec":{"width":142,"height":47,
"layer":[
{"transform":[{"filter":"datum.k=='eb'"}],"mark":{"type":"rule","color":"#111","strokeWidth":1},"encoding":{"x":{"field":"x","type":"quantitative","scale":{"domain":[-3,4],"nice":false},"axis":{"values":[-3,-2,-1,0,1,2,3,4],"labels":false,"title":null,"grid":true}},"y":{"field":"y","type":"quantitative","scale":{"domain":[0,90],"nice":false},"axis":{"values":[0,45,90],"title":"φ/(°)","titleFontSize":10,"titlePadding":4,"grid":true}},"y2":{"field":"y2"}}},
{"transform":[{"filter":"datum.k=='er'"}],"mark":{"type":"rule","color":"#e3191c","strokeWidth":1},"encoding":{"x":{"field":"x","type":"quantitative","scale":{"domain":[-3,4],"nice":false},"axis":{"values":[-3,-2,-1,0,1,2,3,4],"labels":false,"title":null,"grid":true}},"y":{"field":"y","type":"quantitative","scale":{"domain":[0,90],"nice":false},"axis":{"values":[0,45,90],"title":"φ/(°)","titleFontSize":10,"titlePadding":4,"grid":true}},"y2":{"field":"y2"}}},
{"transform":[{"filter":"datum.k=='d'"}],"mark":{"type":"line","color":"#e3191c","strokeWidth":1,"strokeDash":[1,2]},"encoding":{"x":{"field":"x","type":"quantitative","scale":{"domain":[-3,4],"nice":false},"axis":{"values":[-3,-2,-1,0,1,2,3,4],"labels":false,"title":null,"grid":true}},"y":{"field":"y","type":"quantitative","scale":{"domain":[0,90],"nice":false},"axis":{"values":[0,45,90],"title":"φ/(°)","titleFontSize":10,"titlePadding":4,"grid":true}}}},
{"transform":[{"filter":"datum.k=='m'"}],"mark":{"type":"line","color":"#e3191c","strokeWidth":1.3},"encoding":{"x":{"field":"x","type":"quantitative","scale":{"domain":[-3,4],"nice":false},"axis":{"values":[-3,-2,-1,0,1,2,3,4],"labels":false,"title":null,"grid":true}},"y":{"field":"y","type":"quantitative","scale":{"domain":[0,90],"nice":false},"axis":{"values":[0,45,90],"title":"φ/(°)","titleFontSize":10,"titlePadding":4,"grid":true}}}},
{"transform":[{"filter":"datum.k=='f'"}],"mark":{"type":"line","color":"#000","strokeWidth":1},"encoding":{"x":{"field":"x","type":"quantitative","scale":{"domain":[-3,4],"nice":false},"axis":{"values":[-3,-2,-1,0,1,2,3,4],"labels":false,"title":null,"grid":true}},"y":{"field":"y","type":"quantitative","scale":{"domain":[0,90],"nice":false},"axis":{"values":[0,45,90],"title":"φ/(°)","titleFontSize":10,"titlePadding":4,"grid":true}}}},
{"transform":[{"filter":"datum.k=='o'"}],"mark":{"type":"line","color":"#000","strokeWidth":3.5},"encoding":{"x":{"field":"x","type":"quantitative","scale":{"domain":[-3,4],"nice":false},"axis":{"values":[-3,-2,-1,0,1,2,3,4],"labels":false,"title":null,"grid":true}},"y":{"field":"y","type":"quantitative","scale":{"domain":[0,90],"nice":false},"axis":{"values":[0,45,90],"title":"φ/(°)","titleFontSize":10,"titlePadding":4,"grid":true}}}},
{"transform":[{"filter":"datum.k=='p'"}],"mark":{"type":"circle","color":"#000","size":22,"opacity":1},"encoding":{"x":{"field":"x","type":"quantitative","scale":{"domain":[-3,4],"nice":false},"axis":{"values":[-3,-2,-1,0,1,2,3,4],"labels":false,"title":null,"grid":true}},"y":{"field":"y","type":"quantitative","scale":{"domain":[0,90],"nice":false},"axis":{"values":[0,45,90],"title":"φ/(°)","titleFontSize":10,"titlePadding":4,"grid":true}}}}
]}}
]},
{"spacing":-3,"vconcat":[
{"data":{"name":"d"},"transform":[{"filter":"datum.q=='r' && indexof([48,53,58,63,65],datum.s)>=0"}],
"facet":{"column":{"field":"s","type":"ordinal","header":{"labels":false,"title":null}}},"spacing":11,
"spec":{"width":142,"height":101,
"layer":[
{"transform":[{"filter":"datum.k=='eb'"}],"mark":{"type":"rule","color":"#111","strokeWidth":1},"encoding":{"x":{"field":"x","type":"quantitative","scale":{"domain":[-3,4],"nice":false},"axis":{"values":[-3,-2,-1,0,1,2,3,4],"labels":false,"title":null,"grid":true}},"y":{"field":"y","type":"quantitative","scale":{"domain":[-1,4],"nice":false},"axis":{"values":[-1,0,1,2,3,4],"title":"lg(ρ/Ωm)","titleFontSize":12,"titlePadding":2,"grid":true}},"y2":{"field":"y2"}}},
{"transform":[{"filter":"datum.k=='er'"}],"mark":{"type":"rule","color":"#e3191c","strokeWidth":1},"encoding":{"x":{"field":"x","type":"quantitative","scale":{"domain":[-3,4],"nice":false},"axis":{"values":[-3,-2,-1,0,1,2,3,4],"labels":false,"title":null,"grid":true}},"y":{"field":"y","type":"quantitative","scale":{"domain":[-1,4],"nice":false},"axis":{"values":[-1,0,1,2,3,4],"title":"lg(ρ/Ωm)","titleFontSize":12,"titlePadding":2,"grid":true}},"y2":{"field":"y2"}}},
{"transform":[{"filter":"datum.k=='d'"}],"mark":{"type":"line","color":"#e3191c","strokeWidth":1,"strokeDash":[1,2]},"encoding":{"x":{"field":"x","type":"quantitative","scale":{"domain":[-3,4],"nice":false},"axis":{"values":[-3,-2,-1,0,1,2,3,4],"labels":false,"title":null,"grid":true}},"y":{"field":"y","type":"quantitative","scale":{"domain":[-1,4],"nice":false},"axis":{"values":[-1,0,1,2,3,4],"title":"lg(ρ/Ωm)","titleFontSize":12,"titlePadding":2,"grid":true}}}},
{"transform":[{"filter":"datum.k=='m'"}],"mark":{"type":"line","color":"#e3191c","strokeWidth":1.3},"encoding":{"x":{"field":"x","type":"quantitative","scale":{"domain":[-3,4],"nice":false},"axis":{"values":[-3,-2,-1,0,1,2,3,4],"labels":false,"title":null,"grid":true}},"y":{"field":"y","type":"quantitative","scale":{"domain":[-1,4],"nice":false},"axis":{"values":[-1,0,1,2,3,4],"title":"lg(ρ/Ωm)","titleFontSize":12,"titlePadding":2,"grid":true}}}},
{"transform":[{"filter":"datum.k=='f'"}],"mark":{"type":"line","color":"#000","strokeWidth":1},"encoding":{"x":{"field":"x","type":"quantitative","scale":{"domain":[-3,4],"nice":false},"axis":{"values":[-3,-2,-1,0,1,2,3,4],"labels":false,"title":null,"grid":true}},"y":{"field":"y","type":"quantitative","scale":{"domain":[-1,4],"nice":false},"axis":{"values":[-1,0,1,2,3,4],"title":"lg(ρ/Ωm)","titleFontSize":12,"titlePadding":2,"grid":true}}}},
{"transform":[{"filter":"datum.k=='o'"}],"mark":{"type":"line","color":"#000","strokeWidth":3.5},"encoding":{"x":{"field":"x","type":"quantitative","scale":{"domain":[-3,4],"nice":false},"axis":{"values":[-3,-2,-1,0,1,2,3,4],"labels":false,"title":null,"grid":true}},"y":{"field":"y","type":"quantitative","scale":{"domain":[-1,4],"nice":false},"axis":{"values":[-1,0,1,2,3,4],"title":"lg(ρ/Ωm)","titleFontSize":12,"titlePadding":2,"grid":true}}}},
{"transform":[{"filter":"datum.k=='p'"}],"mark":{"type":"circle","color":"#000","size":22,"opacity":1},"encoding":{"x":{"field":"x","type":"quantitative","scale":{"domain":[-3,4],"nice":false},"axis":{"values":[-3,-2,-1,0,1,2,3,4],"labels":false,"title":null,"grid":true}},"y":{"field":"y","type":"quantitative","scale":{"domain":[-1,4],"nice":false},"axis":{"values":[-1,0,1,2,3,4],"title":"lg(ρ/Ωm)","titleFontSize":12,"titlePadding":2,"grid":true}}}},
{"transform":[{"filter":"datum.k=='l'"}],"mark":{"type":"text","fontSize":12,"align":"center","baseline":"middle","color":"#111"},"encoding":{"x":{"datum":-1.5,"type":"quantitative","scale":{"domain":[-3,4],"nice":false},"axis":{"values":[-3,-2,-1,0,1,2,3,4],"labels":false,"title":null,"grid":true}},"y":{"datum":3.45,"type":"quantitative","scale":{"domain":[-1,4],"nice":false},"axis":{"values":[-1,0,1,2,3,4],"title":"lg(ρ/Ωm)","titleFontSize":12,"titlePadding":2,"grid":true}},"text":{"field":"s","type":"nominal"}}}
]}},
{"data":{"name":"d"},"transform":[{"filter":"datum.q=='p' && indexof([48,53,58,63,65],datum.s)>=0"}],
"facet":{"column":{"field":"s","type":"ordinal","header":{"labels":false,"title":null}}},"spacing":11,
"spec":{"width":142,"height":47,
"layer":[
{"transform":[{"filter":"datum.k=='eb'"}],"mark":{"type":"rule","color":"#111","strokeWidth":1},"encoding":{"x":{"field":"x","type":"quantitative","scale":{"domain":[-3,4],"nice":false},"axis":{"values":[-3,-2,-1,0,1,2,3,4],"title":"lg(t/s)","titleFontSize":12,"titlePadding":1,"labelFontSize":11,"labelPadding":2,"grid":true}},"y":{"field":"y","type":"quantitative","scale":{"domain":[0,90],"nice":false},"axis":{"values":[0,45,90],"title":"φ/(°)","titleFontSize":10,"titlePadding":4,"grid":true}},"y2":{"field":"y2"}}},
{"transform":[{"filter":"datum.k=='er'"}],"mark":{"type":"rule","color":"#e3191c","strokeWidth":1},"encoding":{"x":{"field":"x","type":"quantitative","scale":{"domain":[-3,4],"nice":false},"axis":{"values":[-3,-2,-1,0,1,2,3,4],"title":"lg(t/s)","titleFontSize":12,"titlePadding":1,"labelFontSize":11,"labelPadding":2,"grid":true}},"y":{"field":"y","type":"quantitative","scale":{"domain":[0,90],"nice":false},"axis":{"values":[0,45,90],"title":"φ/(°)","titleFontSize":10,"titlePadding":4,"grid":true}},"y2":{"field":"y2"}}},
{"transform":[{"filter":"datum.k=='d'"}],"mark":{"type":"line","color":"#e3191c","strokeWidth":1,"strokeDash":[1,2]},"encoding":{"x":{"field":"x","type":"quantitative","scale":{"domain":[-3,4],"nice":false},"axis":{"values":[-3,-2,-1,0,1,2,3,4],"title":"lg(t/s)","titleFontSize":12,"titlePadding":1,"labelFontSize":11,"labelPadding":2,"grid":true}},"y":{"field":"y","type":"quantitative","scale":{"domain":[0,90],"nice":false},"axis":{"values":[0,45,90],"title":"φ/(°)","titleFontSize":10,"titlePadding":4,"grid":true}}}},
{"transform":[{"filter":"datum.k=='m'"}],"mark":{"type":"line","color":"#e3191c","strokeWidth":1.3},"encoding":{"x":{"field":"x","type":"quantitative","scale":{"domain":[-3,4],"nice":false},"axis":{"values":[-3,-2,-1,0,1,2,3,4],"title":"lg(t/s)","titleFontSize":12,"titlePadding":1,"labelFontSize":11,"labelPadding":2,"grid":true}},"y":{"field":"y","type":"quantitative","scale":{"domain":[0,90],"nice":false},"axis":{"values":[0,45,90],"title":"φ/(°)","titleFontSize":10,"titlePadding":4,"grid":true}}}},
{"transform":[{"filter":"datum.k=='f'"}],"mark":{"type":"line","color":"#000","strokeWidth":1},"encoding":{"x":{"field":"x","type":"quantitative","scale":{"domain":[-3,4],"nice":false},"axis":{"values":[-3,-2,-1,0,1,2,3,4],"title":"lg(t/s)","titleFontSize":12,"titlePadding":1,"labelFontSize":11,"labelPadding":2,"grid":true}},"y":{"field":"y","type":"quantitative","scale":{"domain":[0,90],"nice":false},"axis":{"values":[0,45,90],"title":"φ/(°)","titleFontSize":10,"titlePadding":4,"grid":true}}}},
{"transform":[{"filter":"datum.k=='o'"}],"mark":{"type":"line","color":"#000","strokeWidth":3.5},"encoding":{"x":{"field":"x","type":"quantitative","scale":{"domain":[-3,4],"nice":false},"axis":{"values":[-3,-2,-1,0,1,2,3,4],"title":"lg(t/s)","titleFontSize":12,"titlePadding":1,"labelFontSize":11,"labelPadding":2,"grid":true}},"y":{"field":"y","type":"quantitative","scale":{"domain":[0,90],"nice":false},"axis":{"values":[0,45,90],"title":"φ/(°)","titleFontSize":10,"titlePadding":4,"grid":true}}}},
{"transform":[{"filter":"datum.k=='p'"}],"mark":{"type":"circle","color":"#000","size":22,"opacity":1},"encoding":{"x":{"field":"x","type":"quantitative","scale":{"domain":[-3,4],"nice":false},"axis":{"values":[-3,-2,-1,0,1,2,3,4],"title":"lg(t/s)","titleFontSize":12,"titlePadding":1,"labelFontSize":11,"labelPadding":2,"grid":true}},"y":{"field":"y","type":"quantitative","scale":{"domain":[0,90],"nice":false},"axis":{"values":[0,45,90],"title":"φ/(°)","titleFontSize":10,"titlePadding":4,"grid":true}}}}
]}}
]}
]
}
